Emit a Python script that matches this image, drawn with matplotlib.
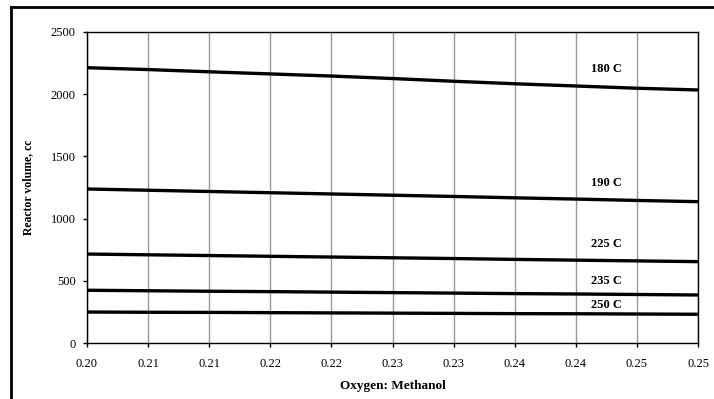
import matplotlib
matplotlib.use("Agg")
import matplotlib.pyplot as plt
from matplotlib.lines import Line2D

x_vals = [0.200, 0.205, 0.210, 0.215, 0.220, 0.225, 0.230, 0.235, 0.240, 0.245, 0.250]
x_tick_labels = ["0.20", "0.21", "0.21", "0.22", "0.22", "0.23", "0.23", "0.24", "0.24", "0.25", "0.25"]
y_ticks = [0, 500, 1000, 1500, 2000, 2500]

series_names = ["180 C", "190 C", "225 C", "235 C", "250 C"]
v180 = [2213, 2198, 2180, 2163, 2146, 2126, 2104, 2084, 2066, 2048, 2034]
v190 = [1238, 1228, 1218, 1208, 1198, 1188, 1178, 1167, 1157, 1146, 1136]
v225 = [715, 709, 703, 697, 691, 685, 679, 672, 666, 660, 654]
v235 = [424, 420, 416, 413, 409, 405, 401, 397, 394, 390, 386]
v250 = [249, 247, 246, 244, 242, 240, 238, 236, 235, 233, 231]
series_values = [v180, v190, v225, v235, v250]
label_x = 0.2425
label_y = [2200, 1285, 795, 495, 305]

plt.rcParams['font.family'] = ['Liberation Serif', 'DejaVu Serif']

fig = plt.figure(figsize=(7.14, 3.99), dpi=100)
W, H = 714, 399
ax = fig.add_axes([87 / W, 1 - 343 / H, (698 - 87) / W, (343 - 32) / H])

for vals in series_values:
    ax.plot(x_vals, vals, color='black', lw=2.4, solid_capstyle='butt')

for name, ly in zip(series_names, label_y):
    ax.text(label_x, ly, name, ha='center', va='center', fontsize=9,
            fontweight='bold')

ax.set_xlim(0.200, 0.250)
ax.set_ylim(0, 2500)
ax.set_xticks(x_vals)
ax.set_xticklabels(x_tick_labels, fontsize=9)
ax.set_yticks(y_ticks)
ax.set_yticklabels([str(v) for v in y_ticks], fontsize=9)
ax.xaxis.grid(True, color='#999999', lw=1.0)
ax.yaxis.grid(False)
ax.set_axisbelow(True)
for s in ax.spines.values():
    s.set_color('black')
    s.set_linewidth(1.0)
ax.tick_params(axis='both', direction='out', length=3, width=1, colors='black', pad=5)
ax.tick_params(axis='x', pad=8)

ax.set_xlabel("Oxygen: Methanol", fontsize=9.5, fontweight='bold', labelpad=7)
ax.set_ylabel("Reactor volume, cc", fontsize=8.5, fontweight='bold', labelpad=12)

# outer frame lines (left and top)
fig.add_artist(Line2D([11 / W, 11 / W], [0, 1 - 7 / H], color='black', lw=2, transform=fig.transFigure))
fig.add_artist(Line2D([11 / W, 1], [1 - 7 / H, 1 - 7 / H], color='black', lw=2, transform=fig.transFigure))

fig.savefig("out.png", dpi=100, facecolor='white')
